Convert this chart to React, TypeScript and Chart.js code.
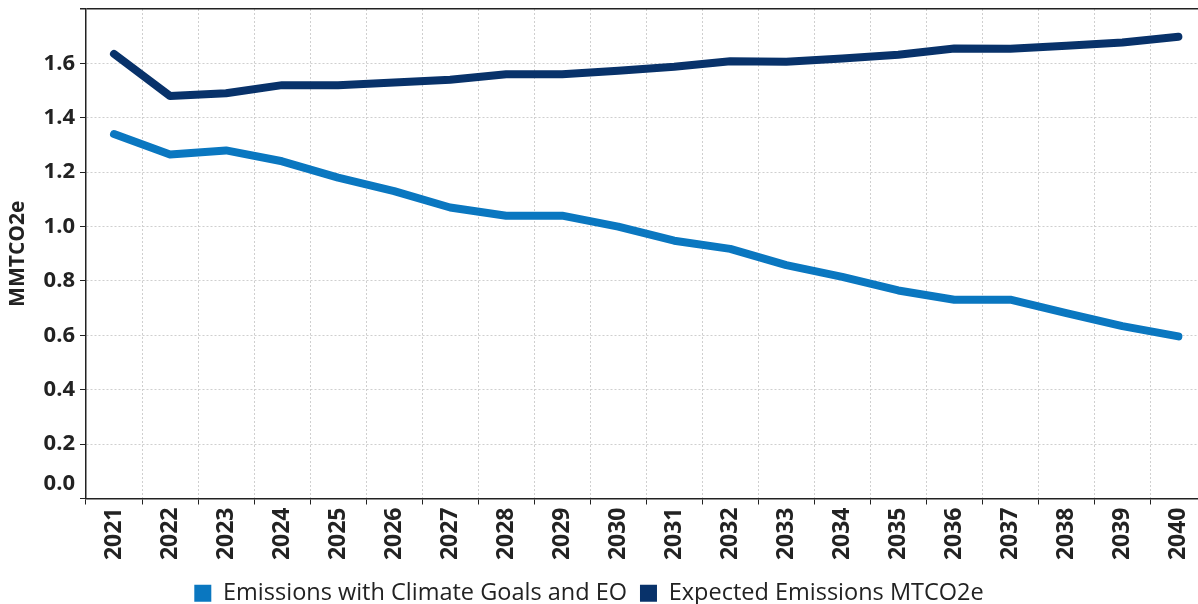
import React, { useEffect, useRef } from 'react';
import { Chart, registerables } from 'chart.js';

Chart.register(...registerables);

const years = [
  '2021', '2022', '2023', '2024', '2025', '2026', '2027', '2028', '2029', '2030',
  '2031', '2032', '2033', '2034', '2035', '2036', '2037', '2038', '2039', '2040',
];

const climateGoals = [
  1.34, 1.265, 1.28, 1.24, 1.18, 1.13, 1.07, 1.04, 1.04, 1.0,
  0.948, 0.918, 0.858, 0.815, 0.765, 0.731, 0.731, 0.682, 0.634, 0.596,
];

const expectedEmissions = [
  1.635, 1.48, 1.49, 1.52, 1.52, 1.53, 1.54, 1.56, 1.56, 1.573,
  1.588, 1.608, 1.606, 1.618, 1.632, 1.655, 1.654, 1.665, 1.677, 1.698,
];

const seriesNames = ['Emissions with Climate Goals and EO', 'Expected Emissions MTCO2e'];
const seriesColors = ['#0a77c0', '#08326a'];
const yTitle = 'MMTCO2e';
const yMin = 0;
const yMax = 1.8;
const yStep = 0.2;

const FONT = '"Open Sans", "DejaVu Sans", sans-serif';
const INK = '#222222';
const GRID = '#cfcfcf';

const CANVAS_W = 1240;
const CANVAS_H = 615;
const OFFSET_X = -31;

export default function App() {
  const ref = useRef<HTMLCanvasElement>(null);

  useEffect(() => {
    if (!ref.current) return;
    const near = (a: number, b: number) => Math.abs(a - b) < 1e-6;
    const isTop = (ctx: any) => !!(ctx && ctx.tick && near(ctx.tick.value, yMax));
    const isZero = (ctx: any) => !!(ctx && ctx.tick && near(ctx.tick.value, 0));

    const chart = new Chart(ref.current, {
      type: 'line',
      data: {
        labels: years,
        datasets: [
          {
            label: seriesNames[0],
            data: climateGoals,
            borderColor: seriesColors[0],
            backgroundColor: seriesColors[0],
            borderWidth: 8,
            borderCapStyle: 'round',
            borderJoinStyle: 'round',
            pointRadius: 0,
            tension: 0,
          },
          {
            label: seriesNames[1],
            data: expectedEmissions,
            borderColor: seriesColors[1],
            backgroundColor: seriesColors[1],
            borderWidth: 8,
            borderCapStyle: 'round',
            borderJoinStyle: 'round',
            pointRadius: 0,
            tension: 0,
          },
        ],
      },
      options: {
        animation: false,
        responsive: false,
        maintainAspectRatio: false,
        layout: { padding: { top: 9, left: 0, right: 0, bottom: 0 } },
        scales: {
          x: {
            type: 'category',
            offset: true,
            afterFit: (scale: any) => {
              scale.height = 70;
            },
            grid: {
              offset: true,
              color: GRID,
              lineWidth: 1,
              tickColor: INK,
              tickLength: 6,
              tickBorderDash: [],
            },
            border: { color: INK, width: 1.5, dash: [2, 2] },
            ticks: {
              autoSkip: false,
              maxRotation: 90,
              minRotation: 90,
              padding: 3,
              color: INK,
              font: { family: FONT, size: 23, weight: 'bold' },
            },
          },
          y: {
            type: 'linear',
            min: yMin,
            max: yMax,
            afterFit: (scale: any) => {
              scale.width = 117;
            },
            title: {
              display: true,
              text: yTitle,
              color: INK,
              font: { family: FONT, size: 21, weight: 'bold' },
              padding: { top: 36, bottom: 0 },
            },
            grid: {
              color: (ctx: any) => (isTop(ctx) ? INK : GRID),
              lineWidth: (ctx: any) => (isTop(ctx) ? 1.5 : 1),
              tickColor: INK,
              tickLength: 6,
              tickBorderDash: [],
            },
            border: {
              color: INK,
              width: 1.5,
              dash: (ctx: any) => (isTop(ctx) ? [] : [2, 2]),
            },
            ticks: {
              autoSkip: false,
              stepSize: yStep,
              padding: 5,
              color: INK,
              font: (ctx: any) =>
                isTop(ctx)
                  ? { family: FONT, size: 1, weight: 'bold' }
                  : isZero(ctx)
                  ? { family: FONT, size: 22, weight: 'bold', lineHeight: 1.36 }
                  : { family: FONT, size: 22, weight: 'bold' },
              callback: (v: any) => {
                const n = Number(v);
                if (near(n, yMax)) return '';
                if (near(n, 0)) return ['0.0', ''];
                return n.toFixed(1);
              },
            },
          },
        },
        plugins: {
          tooltip: { enabled: false },
          legend: {
            position: 'bottom',
            labels: {
              boxWidth: 17,
              boxHeight: 17,
              padding: 13,
              color: INK,
              font: { family: FONT, size: 23.5 },
              generateLabels: (c: any) =>
                Chart.defaults.plugins.legend.labels.generateLabels(c).map((l: any, i: number) => ({
                  ...l,
                  fillStyle: seriesColors[i],
                  strokeStyle: seriesColors[i],
                  lineWidth: 0,
                })),
            },
          },
        },
      },
    } as any);

    return () => chart.destroy();
  }, []);

  return (
    <div
      style={{
        position: 'fixed',
        left: 0,
        top: 0,
        width: 1198,
        height: 604,
        overflow: 'hidden',
        background: '#ffffff',
      }}
    >
      <div style={{ position: 'absolute', left: OFFSET_X, top: 0, width: CANVAS_W, height: CANVAS_H }}>
        <canvas ref={ref} width={CANVAS_W} height={CANVAS_H} style={{ width: CANVAS_W, height: CANVAS_H }} />
      </div>
    </div>
  );
}
